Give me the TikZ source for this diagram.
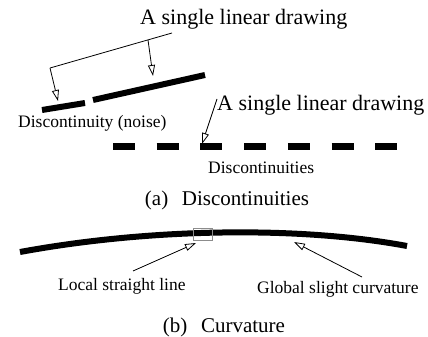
\documentclass[tikz,border=0pt]{standalone}
\usepackage{fontspec}
\setmainfont{Liberation Serif}
\usetikzlibrary{arrows.meta, positioning}
\tikzstyle{arrow}=[-{Triangle[open, length=11pt, width=7pt]}, line width=0.8pt, color=black]

\begin{document}
\begin{tikzpicture}[x=1pt, y=-1pt,
  lbl/.style={inner sep=0pt, anchor=base west, font=\fontsize{17.5}{20}\selectfont},
  head/.style={inner sep=0pt, anchor=base west, font=\fontsize{22}{26}\selectfont},
  capt/.style={inner sep=0pt, anchor=base, font=\fontsize{21}{25}\selectfont},
  stroke/.style={line width=6pt}
]
\useasboundingbox (0,0) rectangle (428,337);

% (a) discontinuities
\node[head] (head1) at (140,25) {A single linear drawing};
\node[head] (head2) at (217,110) {A single linear drawing};
\node[lbl]  (noise) at (18,127) {Discontinuity (noise)};
\node[lbl]  (disc)  at (208,173) {Discontinuities};
\node[capt] (capa)  at (227,205) {(a)\hspace{0.65em}Discontinuities};

\draw[stroke] (42,110) -- (85,103);
\draw[stroke] (93,100) -- (205,75);
\draw[line width=7pt, dash pattern=on 22pt off 21.7pt] (113,146.5) -- (397,146.5);

\coordinate (t1)   at (172,33);
\coordinate (knee) at (50,68);
\coordinate (fork) at (148,40);
\coordinate (tip1) at (58,101);
\coordinate (tip2) at (153,76);
\coordinate (t2)   at (217,99);
\coordinate (tip3) at (202,144);

\draw[line width=0.8pt] (t1) -- (knee);
\draw[arrow] (knee) -- (tip1);
\draw[arrow] (fork) -- (tip2);
\draw[arrow] (t2) -- (tip3);

% (b) curvature
\draw[stroke] (20,252) .. controls (150,228) and (300,226) .. (407,246);
\node[draw=black!45, line width=0.6pt, minimum width=19pt, minimum height=12pt,
      inner sep=0pt] (box) at (202.5,234) {};

\node[lbl]  (local)  at (58,290) {Local straight line};
\node[lbl]  (global) at (257,293) {Global slight curvature};
\node[capt] (capb)   at (224,332) {(b)\hspace{0.65em}Curvature};

\coordinate (t3)   at (133,271);
\coordinate (tip4) at (196,243);
\coordinate (t4)   at (362,277);
\coordinate (tip5) at (294,242);

\draw[arrow] (t3) -- (tip4);
\draw[arrow] (t4) -- (tip5);
\end{tikzpicture}
\end{document}
